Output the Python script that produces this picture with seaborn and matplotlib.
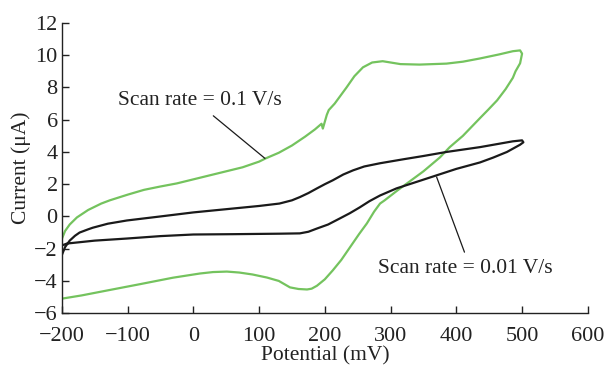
import numpy as np
import pandas as pd
import seaborn as sns
import matplotlib
matplotlib.use("Agg")
import matplotlib.pyplot as plt

# scan rate 0.1 V/s (green) - potential (mV), current (uA), in scan order
fast_mv = [-200, -195, -188, -177, -160, -140, -127, -100, -75, -51, -25, 0, 25, 50, 75, 100, 110,
           130, 150, 170, 185, 195, 197, 203, 206, 215, 233, 245, 258, 272, 288, 300, 315, 344,
           385, 410, 436, 465, 486, 497, 500,
           497, 490, 486, 475, 462, 448, 436, 410, 390, 375, 350, 330, 310, 291, 284, 275, 264,
           252, 238, 225, 212, 200, 188, 180, 173, 160, 147, 130, 112, 90, 70, 51, 30, 10, -31,
           -81, -132, -170, -200]
fast_ua = [-1.4, -0.9, -0.5, -0.06, 0.4, 0.8, 1.0, 1.35, 1.65, 1.85, 2.05, 2.3, 2.55, 2.8, 3.05, 3.4, 3.6,
           3.95, 4.4, 4.95, 5.4, 5.75, 5.45, 6.3, 6.6, 7.0, 8.0, 8.7, 9.25, 9.55, 9.63, 9.55, 9.45, 9.42,
           9.48, 9.6, 9.8, 10.05, 10.25, 10.3, 10.1,
           9.5, 9.0, 8.6, 7.9, 7.2, 6.6, 6.1, 5.0, 4.3, 3.66, 2.8, 2.2, 1.6, 1.0, 0.8, 0.3, -0.43,
           -1.1, -1.93, -2.7, -3.35, -3.9, -4.3, -4.48, -4.53, -4.5, -4.4, -4.0, -3.79, -3.6, -3.48, -3.42, -3.45, -3.54, -3.8,
           -4.2, -4.6, -4.9, -5.1]

# scan rate 0.01 V/s (black)
slow_mv = [-200, -195, -188, -180, -173, -160, -153, -130, -101, -50, 0, 50, 100, 131, 150, 162, 175,
           188, 200, 212, 228, 243, 260, 284, 320, 350, 385, 436, 486, 500,
           502, 497, 477, 456, 436, 400, 370, 340, 309, 284, 268, 253, 238, 223, 205, 188, 175,
           162, 131, 60, 0, -50, -101, -150, -192, -200]
slow_ua = [-2.4, -1.9, -1.5, -1.2, -1.0, -0.8, -0.7, -0.45, -0.25, 0.0, 0.25, 0.45, 0.65, 0.8, 1.0, 1.2, 1.45,
           1.74, 2.0, 2.24, 2.6, 2.86, 3.1, 3.3, 3.55, 3.75, 4.0, 4.3, 4.66, 4.72,
           4.6, 4.45, 4.0, 3.65, 3.35, 2.95, 2.55, 2.15, 1.74, 1.3, 0.95, 0.56, 0.2, -0.12, -0.5, -0.75, -0.95,
           -1.05, -1.07, -1.1, -1.12, -1.22, -1.37, -1.5, -1.68, -1.8]

fast = pd.DataFrame({"mv": fast_mv, "ua": fast_ua})
slow = pd.DataFrame({"mv": slow_mv, "ua": slow_ua})

sns.set_style("ticks")
plt.rcParams['font.family'] = ['Liberation Serif', 'DejaVu Serif']

fig, ax = plt.subplots(figsize=(6.06, 3.65), dpi=100)
fig.subplots_adjust(left=0.102, right=0.970, bottom=0.142, top=0.937)

sns.lineplot(data=fast, x="mv", y="ua", sort=False, estimator=None, color="#74c35e", lw=1.6, ax=ax)
sns.lineplot(data=slow, x="mv", y="ua", sort=False, estimator=None, color="#1a1a1a", lw=1.6, ax=ax)

ax.annotate("Scan rate = 0.1 V/s", xy=(109, 3.6), xytext=(-115, 7.2), fontsize=15.5,
            va="center", ha="left", color="#222222",
            arrowprops=dict(arrowstyle="-", color="#1a1a1a", lw=0.9, relpos=(0.54, 0.0),
                            shrinkA=3, shrinkB=0))
ax.annotate("Scan rate = 0.01 V/s", xy=(370, 2.45), xytext=(281, -3.25), fontsize=15.5,
            va="center", ha="left", color="#222222",
            arrowprops=dict(arrowstyle="-", color="#1a1a1a", lw=0.9, relpos=(0.51, 1.0),
                            shrinkA=3, shrinkB=0))

ax.set_xlim(-200, 600)
ax.set_ylim(-6, 12)
ax.set_xticks(np.arange(-200, 601, 100))
ax.set_yticks(np.arange(-6, 13, 2))
ax.tick_params(direction="in", length=5, width=1, labelsize=16, colors="#222222")
ax.tick_params(axis="y", pad=3)
ax.tick_params(axis="x", pad=10)
for s in ["left", "bottom"]:
    ax.spines[s].set_linewidth(1)
    ax.spines[s].set_color("#222222")
sns.despine(ax=ax)

ax.set_xlabel("Potential (mV)", fontsize=15.5, labelpad=0, color="#222222")
ax.set_ylabel("Current (μA)", fontsize=15.5, labelpad=2, color="#222222")

fig.savefig("out.png", dpi=100)
